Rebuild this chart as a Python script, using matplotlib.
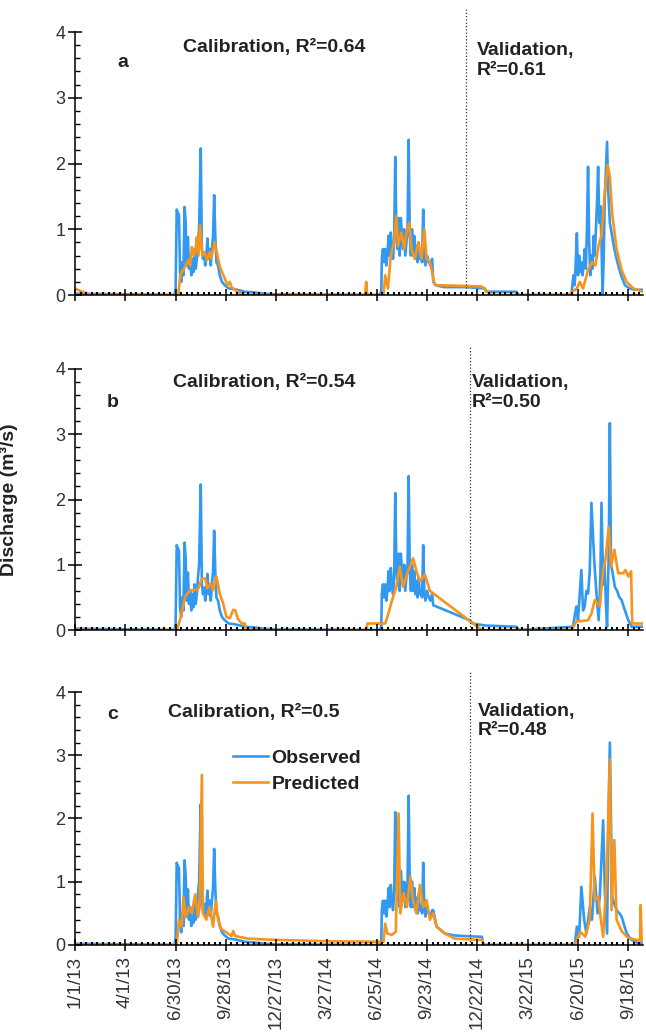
import numpy as np
import matplotlib
matplotlib.use('Agg')
from matplotlib import pyplot as plt
from matplotlib.ticker import MultipleLocator

plt.rcParams['font.family'] = ['Liberation Sans', 'DejaVu Sans']

blue = '#3399f0'
orange = '#f7941d'

# x axis: days since 1/1/13
tick_days = [0, 90, 180, 270, 360, 450, 540, 630, 720, 810, 900, 990]
tick_labels = ['1/1/13', '4/1/13', '6/30/13', '9/28/13', '12/27/13', '3/27/14',
               '6/25/14', '9/23/14', '12/22/14', '3/22/15', '6/20/15', '9/18/15']

# observed discharge, common to all three panels up to end of 2014 season
obs_early_day = [0, 100, 178, 180, 182, 184, 186, 188, 190, 192,
                 194, 196, 198, 200, 202, 204, 206, 208, 210, 212,
                 214, 216, 218, 220, 222, 224, 225, 227, 229, 231,
                 233, 235, 237, 239, 241, 243, 245, 247, 249, 251,
                 253, 256, 259, 263, 268, 275, 285, 295, 304, 320,
                 340, 360, 544, 548, 549, 551, 553, 555, 557, 559,
                 561, 563, 565, 567, 569, 571, 573, 575, 577, 579,
                 581, 583, 585, 587, 589, 591, 593, 595, 597, 599,
                 601, 603, 605, 607, 609, 611, 613, 615, 617, 619,
                 621, 623, 625, 627, 630, 633, 636, 639]
obs_early_q = [0.02, 0.01, 0.0, 0.1, 1.3, 1.25, 1.22, 0.35, 0.2, 0.5,
               0.3, 1.34, 1.1, 0.45, 0.88, 0.4, 0.6, 0.3, 0.55, 0.35,
               0.7, 0.4, 0.55, 0.8, 1.0, 1.8, 2.23, 0.7, 0.55, 0.65,
               0.45, 0.6, 0.86, 0.55, 0.7, 0.45, 0.7, 0.9, 1.52, 0.9,
               0.5, 0.45, 0.3, 0.2, 0.15, 0.1, 0.09, 0.07, 0.05, 0.04,
               0.02, 0.01, 0.0, 0.05, 0.55, 0.7, 0.5, 0.7, 0.45, 0.6,
               0.9, 0.6, 0.95, 0.7, 0.55, 0.8, 2.1, 1.0, 0.7, 1.17,
               0.6, 1.17, 0.9, 0.7, 1.0, 0.6, 0.8, 1.0, 2.36, 0.9,
               0.6, 1.0, 0.6, 0.9, 0.55, 0.75, 0.5, 0.8, 0.55, 0.6,
               0.5, 1.3, 0.6, 0.45, 0.6, 0.5, 0.45, 0.55]

# observed, rest of record per panel
obs_late_a_day = [641, 645, 660, 700, 733, 736, 790, 794, 888, 892,
                  894, 896, 898, 900, 902, 904, 906, 908, 910, 912,
                  914, 916, 918, 920, 922, 924, 926, 928, 930, 932,
                  934, 936, 938, 940, 942, 944, 946, 948, 950, 952,
                  954, 957, 961, 965, 969, 972, 977, 984, 992, 1002, 1016]
obs_late_a_q = [0.2, 0.15, 0.12, 0.12, 0.1, 0.05, 0.05, 0.0, 0.0, 0.3,
                0.15, 0.5, 0.94, 0.3, 0.6, 0.35, 0.5, 0.3, 0.45, 0.7,
                0.4, 1.0, 1.95, 0.8, 0.3, 0.6, 0.4, 0.9, 0.6, 1.0,
                1.4, 1.95, 1.1, 1.35, 0.8, 0.0, 0.6, 1.5, 1.9, 2.33,
                1.6, 1.1, 0.9, 0.7, 0.55, 0.45, 0.3, 0.15, 0.1, 0.08, 0.08]

obs_late_b_day = [641, 706, 712, 733, 790, 794, 891, 897, 900, 906,
                  909, 912, 915, 918, 921, 924, 929, 933, 937, 940,
                  942, 945, 947, 950, 952, 955, 957, 959, 961, 966,
                  970, 974, 978, 982, 986, 990, 996, 1016]
obs_late_b_q = [0.38, 0.15, 0.1, 0.07, 0.05, 0.0, 0.05, 0.36, 0.15, 0.92,
                0.3, 0.36, 0.6, 0.56, 0.9, 1.95, 1.07, 0.56, 0.15, 0.8,
                1.95, 0.7, 1.07, 0.4, 0.05, 1.2, 3.17, 1.0, 0.92, 0.66,
                0.6, 0.5, 0.46, 0.35, 0.25, 0.15, 0.05, 0.05]

obs_late_c_day = [641, 647, 662, 680, 700, 728, 731, 894, 898, 902,
                  906, 911, 915, 921, 925, 930, 935, 939, 945, 948,
                  952, 954, 957, 961, 965, 969, 974, 978, 983, 987,
                  992, 996, 1005, 1016]
obs_late_c_q = [0.55, 0.29, 0.18, 0.15, 0.14, 0.13, 0.0, 0.0, 0.29, 0.13,
                0.92, 0.4, 0.18, 0.6, 0.4, 1.08, 0.5, 0.76, 1.97, 0.86,
                0.18, 1.71, 3.2, 0.76, 0.65, 0.55, 0.5, 0.45, 0.3, 0.19,
                0.12, 0.08, 0.04, 0.02]

# predicted discharge
pred_a_day = [0, 10, 20, 28, 185, 188, 191, 194, 198, 203,
              206, 209, 213, 216, 218, 221, 224, 228, 232, 236,
              241, 244, 247, 250, 255, 259, 264, 268, 273, 277,
              280, 289, 298, 305, 519, 521, 523, 552, 555, 560,
              565, 571, 575, 578, 584, 589, 593, 598, 602, 608,
              614, 620, 625, 629, 635, 639, 642, 646, 690, 728,
              745, 883, 890, 898, 903, 909, 918, 925, 931, 937,
              942, 947, 953, 957, 961, 969, 978, 987, 999, 1016]
pred_a_q = [0.1, 0.06, 0.03, 0.0, 0.0, 0.28, 0.35, 0.38, 0.45, 0.53,
            0.45, 0.73, 0.6, 0.7, 0.88, 0.6, 1.06, 0.6, 0.65, 0.53,
            0.65, 0.55, 0.7, 0.8, 0.6, 0.43, 0.33, 0.25, 0.15, 0.2,
            0.12, 0.06, 0.02, 0.0, 0.0, 0.2, 0.0, 0.0, 0.3, 0.1,
            0.6, 0.8, 1.2, 0.75, 0.95, 0.7, 0.95, 1.1, 0.7, 0.55,
            0.8, 0.55, 1.0, 0.55, 0.5, 0.35, 0.2, 0.15, 0.14, 0.13,
            0.0, 0.0, 0.05, 0.1, 0.2, 0.1, 0.38, 0.5, 0.45, 0.76,
            0.91, 1.47, 1.98, 1.8, 1.25, 0.7, 0.38, 0.2, 0.1, 0.05]

pred_b_day = [0, 182, 186, 191, 197, 206, 215, 221, 227, 233,
              237, 243, 247, 253, 259, 265, 271, 277, 283, 287,
              291, 298, 304, 307, 522, 523, 555, 561, 567, 575,
              581, 587, 596, 605, 611, 617, 626, 635, 728, 888,
              892, 897, 918, 924, 930, 939, 945, 949, 955, 959,
              965, 972, 981, 985, 990, 995, 997, 1016]
pred_b_q = [0.0, 0.0, 0.1, 0.26, 0.51, 0.61, 0.61, 0.64, 0.79, 0.79,
            0.64, 0.71, 0.61, 0.82, 0.56, 0.41, 0.2, 0.18, 0.31, 0.3,
            0.18, 0.1, 0.1, 0.0, 0.0, 0.1, 0.1, 0.26, 0.45, 0.66,
            0.97, 0.66, 0.9, 1.1, 0.9, 0.75, 0.85, 0.6, 0.0, 0.0,
            0.05, 0.13, 0.15, 0.25, 0.46, 0.36, 0.92, 1.07, 1.58, 0.97,
            1.23, 0.87, 0.87, 0.92, 0.82, 0.9, 0.1, 0.1]

pred_c_day = [0, 182, 186, 191, 194, 198, 204, 209, 215, 220,
              223, 227, 229, 235, 241, 247, 252, 256, 262, 271,
              280, 283, 287, 310, 360, 450, 549, 552, 555, 559,
              567, 574, 579, 582, 588, 594, 600, 605, 611, 617,
              623, 629, 635, 641, 647, 662, 680, 728, 731, 894,
              898, 904, 913, 921, 926, 930, 936, 941, 945, 951,
              957, 960, 965, 969, 978, 990, 1011, 1012, 1014, 1016]
pred_c_q = [0.0, 0.0, 0.4, 0.29, 0.76, 0.44, 0.6, 0.5, 0.8, 0.44,
            0.6, 2.69, 0.5, 0.4, 0.6, 0.29, 0.7, 0.4, 0.25, 0.2,
            0.14, 0.22, 0.14, 0.1, 0.08, 0.06, 0.05, 0.05, 0.34, 0.18,
            0.16, 0.21, 2.08, 0.5, 0.82, 0.6, 1.08, 0.71, 0.5, 0.95,
            0.6, 0.71, 0.4, 0.5, 0.29, 0.18, 0.1, 0.08, 0.0, 0.0,
            0.08, 0.21, 0.13, 0.4, 2.08, 0.71, 0.76, 0.4, 0.13, 1.03,
            2.93, 0.55, 1.66, 0.4, 0.22, 0.11, 0.07, 0.63, 0.07, 0.07]

panels = [
    dict(obs_d=obs_early_day + obs_late_a_day, obs_q=obs_early_q + obs_late_a_q,
         pred_d=pred_a_day, pred_q=pred_a_q, letter='a', split=700,
         cal='Calibration, R\u00b2=0.64', val='Validation,\nR\u00b2=0.61',
         rect=[0.1161, 0.7144, 0.879, 0.2546],
         letter_xy=(86, 3.53), cal_xy=(193, 3.77), val_xy=(719, 3.57)),
    dict(obs_d=obs_early_day + obs_late_b_day, obs_q=obs_early_q + obs_late_b_q,
         pred_d=pred_b_day, pred_q=pred_b_q, letter='b', split=706,
         cal='Calibration, R\u00b2=0.54', val='Validation,\nR\u00b2=0.50',
         rect=[0.1161, 0.3901, 0.879, 0.2527],
         letter_xy=(68, 3.49), cal_xy=(175, 3.79), val_xy=(710, 3.64)),
    dict(obs_d=obs_early_day + obs_late_c_day, obs_q=obs_early_q + obs_late_c_q,
         pred_d=pred_c_day, pred_q=pred_c_q, letter='c', split=707,
         cal='Calibration, R\u00b2=0.5', val='Validation,\nR\u00b2=0.48',
         rect=[0.1161, 0.0852, 0.879, 0.2449],
         letter_xy=(68, 3.64), cal_xy=(166, 3.68), val_xy=(721, 3.54)),
]

fig = plt.figure(figsize=(6.46, 10.33), dpi=100)

for i, p in enumerate(panels):
    ax = fig.add_axes(p['rect'])
    ax.plot(p['obs_d'], p['obs_q'], color=blue, lw=1.9, label='Observed')
    ax.plot(p['pred_d'], p['pred_q'], color=orange, lw=1.9, label='Predicted')
    ax.plot([p['split'], p['split']], [0, 4.35], color='#333333', lw=0.9,
            ls=':', clip_on=False)

    ax.set_xlim(0, 1016)
    ax.set_ylim(0, 4)
    ax.spines['top'].set_visible(False)
    ax.spines['right'].set_visible(False)
    for s in ['left', 'bottom']:
        ax.spines[s].set_linewidth(1.1)
    ax.set_axisbelow(False)

    ax.set_yticks([0, 1, 2, 3, 4])
    ax.yaxis.set_minor_locator(MultipleLocator(0.2))
    ax.set_xticks(tick_days)
    ax.xaxis.set_minor_locator(MultipleLocator(10))
    ax.tick_params(axis='y', which='major', direction='inout', length=10,
                   width=1.1, labelsize=13, pad=2, labelcolor='#333333')
    ax.tick_params(axis='y', which='minor', direction='in', length=3.5, width=1.0)
    ax.tick_params(axis='x', which='major', direction='inout', length=9, width=1.1,
                   labelcolor='#333333')
    ax.tick_params(axis='x', which='minor', direction='in', length=2.5, width=1.5)
    if i == 2:
        ax.set_xticklabels(tick_labels, rotation=90, fontsize=13.5)
    else:
        ax.set_xticklabels([])

    ax.text(*p['letter_xy'], p['letter'], fontsize=14, fontweight='bold',
            ha='center', va='center', color='#222222')
    ax.text(*p['cal_xy'], p['cal'], fontsize=14, fontweight='bold',
            ha='left', va='center', color='#222222')
    ax.text(*p['val_xy'], p['val'], fontsize=14, fontweight='bold',
            ha='left', va='center', linespacing=1.2, color='#222222')

    if i == 1:
        ax.set_ylabel('Discharge (m\u00b3/s)', fontsize=14, fontweight='bold',
                      color='#222222')
        ax.yaxis.set_label_coords(-0.1, 0.5)
    if i == 2:
        leg = ax.legend(loc='upper left', bbox_to_anchor=(0.278, 0.775), frameon=False,
                        prop={'weight': 'bold', 'size': 14}, handlelength=1.8,
                        handletextpad=0.2, labelspacing=0.45, borderpad=0,
                        borderaxespad=0)
        for t in leg.get_texts():
            t.set_color('#222222')

fig.savefig('out.png', dpi=100)
